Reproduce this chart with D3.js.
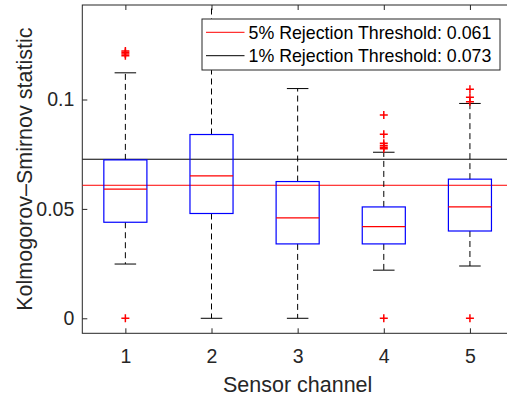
<!DOCTYPE html>
<html>
<head>
<meta charset="utf-8">
<script src="https://cdn.jsdelivr.net/npm/d3@7"></script>
<style>
  body { margin: 0; background: #fff; }
  svg { display: block; font-family: "Liberation Sans", Arial, sans-serif; }
</style>
</head>
<body>
<svg id="chart" width="507" height="398"></svg>
<script>
// Box statistics per sensor channel
const channels = [1, 2, 3, 4, 5];
const q1Values = [0.0439, 0.0479, 0.0340, 0.0340, 0.0399];
const medianValues = [0.0590, 0.0651, 0.0459, 0.0419, 0.0509];
const q3Values = [0.0724, 0.0840, 0.0625, 0.0509, 0.0636];
const whiskerLow = [0.0248, 0.0, 0.0, 0.0220, 0.0239];
const whiskerHigh = [0.1122, 0.1500, 0.1050, 0.0759, 0.0982];
const outliers = [
  [0, 0.1200, 0.1208, 0.1215, 0.1222],
  [],
  [],
  [0, 0.0775, 0.0782, 0.0790, 0.0800, 0.0841, 0.0929],
  [0, 0.0990, 0.1010, 0.1047]
];
const thresholds = [
  { label: '5% Rejection Threshold: 0.061', value: 0.0608, color: '#ff0000' },
  { label: '1% Rejection Threshold: 0.073', value: 0.0727, color: '#000000' }
];
const yTicks = [0, 0.05, 0.1];

const svg = d3.select('#chart');
const axisColor = '#262626';
const plot = { left: 82.3, right: 513, top: 5, bottom: 333.3 };

const x = d3.scaleLinear().domain([0.5, 5.5]).range([plot.left, plot.right]);
const y = d3.scaleLinear().domain([-0.00686, 0.1432]).range([plot.bottom, plot.top]);

svg.append('defs').append('clipPath').attr('id', 'clip')
  .append('rect')
  .attr('x', plot.left).attr('y', plot.top)
  .attr('width', plot.right - plot.left).attr('height', plot.bottom - plot.top);

// axes (MATLAB style: ticks inside, box on)
const tickLen = 5;
const xAxis = d3.axisBottom(x).tickValues(channels).tickSize(-tickLen).tickPadding(15.5).tickFormat(d3.format('d'));
const xAxisTop = d3.axisTop(x).tickValues(channels).tickSize(-tickLen).tickFormat('');
const yAxis = d3.axisLeft(y).tickValues(yTicks).tickSize(-tickLen).tickPadding(8).tickFormat(d => d === 0 ? '0' : d3.format('')(d));

const styleAxis = g => {
  g.select('.domain').attr('stroke', axisColor).attr('stroke-width', 1);
  g.selectAll('.tick line').attr('stroke', axisColor);
  g.selectAll('.tick text').attr('fill', axisColor).style('font-size', '19.5px').style('font-family', '"Liberation Sans", Arial, sans-serif');
};

svg.append('g').attr('transform', `translate(0,${plot.bottom})`).call(xAxis).call(styleAxis);
svg.append('g').attr('transform', `translate(0,${plot.top})`).call(xAxisTop).call(styleAxis);
svg.append('g').attr('transform', `translate(${plot.left},0)`).call(yAxis).call(styleAxis);

svg.selectAll('.domain').attr('d', null);
svg.append('rect')
  .attr('x', plot.left).attr('y', plot.top)
  .attr('width', plot.right - plot.left).attr('height', plot.bottom - plot.top)
  .attr('fill', 'none').attr('stroke', axisColor).attr('stroke-width', 1);

const g = svg.append('g').attr('clip-path', 'url(#clip)');

// threshold lines
g.selectAll('.threshold').data(thresholds).join('line')
  .attr('x1', plot.left).attr('x2', plot.right)
  .attr('y1', d => y(d.value)).attr('y2', d => y(d.value))
  .attr('stroke', d => d.color).attr('stroke-width', 1);

const boxHalf = 0.25;
const capHalf = 0.125;

channels.forEach((c, i) => {
  const bg = g.append('g');
  // whiskers
  bg.append('line')
    .attr('x1', x(c)).attr('x2', x(c))
    .attr('y1', y(q3Values[i])).attr('y2', y(whiskerHigh[i]))
    .attr('stroke', '#000').attr('stroke-dasharray', '6,4');
  bg.append('line')
    .attr('x1', x(c)).attr('x2', x(c))
    .attr('y1', y(q1Values[i])).attr('y2', y(whiskerLow[i]))
    .attr('stroke', '#000').attr('stroke-dasharray', '6,4');
  // caps
  [whiskerLow[i], whiskerHigh[i]].forEach(v => {
    bg.append('line')
      .attr('x1', x(c - capHalf)).attr('x2', x(c + capHalf))
      .attr('y1', y(v)).attr('y2', y(v))
      .attr('stroke', '#000');
  });
  // box
  bg.append('rect')
    .attr('x', x(c - boxHalf)).attr('y', y(q3Values[i]))
    .attr('width', x(c + boxHalf) - x(c - boxHalf))
    .attr('height', y(q1Values[i]) - y(q3Values[i]))
    .attr('fill', 'none').attr('stroke', '#0000ff').attr('stroke-width', 1.2);
  // median
  bg.append('line')
    .attr('x1', x(c - boxHalf)).attr('x2', x(c + boxHalf))
    .attr('y1', y(medianValues[i])).attr('y2', y(medianValues[i]))
    .attr('stroke', '#ff0000').attr('stroke-width', 1.2);
  // outliers
  bg.selectAll('.out').data(outliers[i]).join('path')
    .attr('d', d => `M${x(c) - 4},${y(d)}h8M${x(c)},${y(d) - 4}v8`)
    .attr('stroke', '#ff0000').attr('stroke-width', 1.5).attr('fill', 'none');
});

// legend
const legend = svg.append('g');
legend.append('rect')
  .attr('x', 202).attr('y', 19).attr('width', 298).attr('height', 51)
  .attr('fill', '#fff').attr('stroke', axisColor).attr('stroke-width', 1);
thresholds.forEach((t, i) => {
  const ly = 32.3 + i * 23.4;
  legend.append('line')
    .attr('x1', 206).attr('x2', 244.5).attr('y1', ly).attr('y2', ly)
    .attr('stroke', t.color).attr('stroke-width', 1);
  legend.append('text')
    .attr('x', 248.5).attr('y', ly + 6.3)
    .attr('fill', '#000').style('font-size', '17.8px')
    .text(t.label);
});

// axis labels
svg.append('text')
  .attr('x', (plot.left + plot.right) / 2).attr('y', 391.5)
  .attr('text-anchor', 'middle').attr('fill', axisColor)
  .style('font-size', '21.5px')
  .text('Sensor channel');

svg.append('text')
  .attr('transform', `translate(32,${(plot.top + plot.bottom) / 2}) rotate(-90)`)
  .attr('text-anchor', 'middle').attr('fill', axisColor)
  .style('font-size', '21.5px')
  .text('Kolmogorov\u2013Smirnov statistic');
</script>
</body>
</html>
